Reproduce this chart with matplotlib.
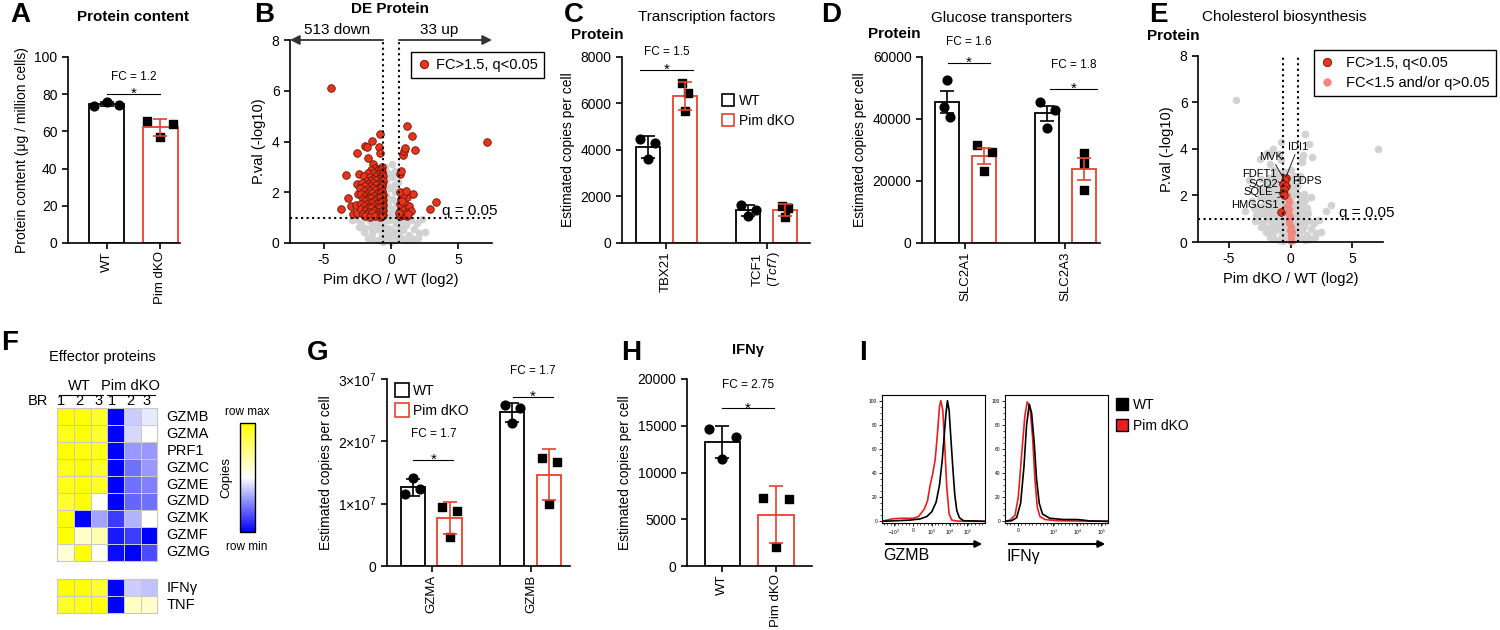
import numpy as np
import matplotlib.pyplot as plt
from matplotlib.colors import LinearSegmentedColormap
from matplotlib.lines import Line2D
from matplotlib.patches import FancyArrowPatch

plt.rcParams['font.family'] = ['Liberation Sans', 'DejaVu Sans']
plt.rcParams['axes.unicode_minus'] = False
plt.rcParams['mathtext.fontset'] = 'custom'
plt.rcParams['mathtext.rm'] = 'Liberation Sans'
plt.rcParams['mathtext.it'] = 'Liberation Sans:italic'
plt.rcParams['mathtext.default'] = 'regular'

W, H = 1500, 630
RED = '#e8412c'

# ---------------- data ----------------
# A: protein content (ug / million cells)
prot_wt = [73.5, 75.6, 74.4]
prot_ko = [65.4, 56.8, 64.2]

# B / E: volcano (log2 FC, -log10 p)
down_pts = [
    (-4.45, 6.1), (-0.81, 4.29), (-1.43, 4.02), (-1.93, 3.82), (-1.75, 3.8), (-0.9, 3.77),
    (-2.5, 3.56), (-0.8, 3.53), (-1.68, 3.36), (-1.3, 3.1), (-3.36, 2.68), (-3.7, 1.33),
    (-3.16, 1.76), (-3.0, 1.47), (-2.8, 1.14), (-2.5, 2.31), (-2.6, 1.5), (-2.4, 2.7),
    (-2.45, 1.95), (-2.55, 1.2),
    (-1.2, 2.97), (-0.9, 2.93), (-0.7, 2.98),
    (-1.45, 2.86), (-1.02, 2.84), (-0.76, 2.88), (-0.64, 2.8),
    (-1.72, 2.74), (-1.27, 2.77), (-0.95, 2.7), (-0.68, 2.72),
    (-2.02, 2.64), (-1.55, 2.62), (-1.1, 2.66), (-0.8, 2.6), (-0.62, 2.63),
    (-1.35, 2.54), (-0.9, 2.52), (-0.7, 2.5),
    (-1.8, 2.46), (-1.5, 2.43), (-1.15, 2.47), (-0.78, 2.42), (-0.63, 2.45),
    (-2.15, 2.35), (-1.65, 2.33), (-1.3, 2.37), (-1.0, 2.31), (-0.7, 2.34),
    (-1.9, 2.25), (-1.45, 2.23), (-1.15, 2.27), (-0.85, 2.22), (-0.64, 2.26),
    (-2.3, 2.15), (-1.7, 2.13), (-1.35, 2.17), (-1.0, 2.12), (-0.72, 2.16),
    (-2.0, 2.05), (-1.55, 2.03), (-1.2, 2.07), (-0.9, 2.02), (-0.66, 2.06),
    (-2.2, 1.95), (-1.8, 1.93), (-1.4, 1.97), (-1.05, 1.92), (-0.75, 1.96), (-0.62, 1.9),
    (-1.95, 1.85), (-1.6, 1.83), (-1.25, 1.87), (-0.95, 1.82), (-0.7, 1.86),
    (-2.1, 1.75), (-1.75, 1.73), (-1.45, 1.77), (-1.1, 1.72), (-0.8, 1.76), (-0.63, 1.7),
    (-1.9, 1.65), (-1.55, 1.63), (-1.25, 1.67), (-0.9, 1.62), (-0.68, 1.66),
    (-2.2, 1.55), (-1.8, 1.53), (-1.4, 1.57), (-1.05, 1.52), (-0.75, 1.56), (-0.62, 1.5),
    (-2.0, 1.45), (-1.65, 1.43), (-1.3, 1.47), (-0.95, 1.42), (-0.7, 1.46),
    (-2.25, 1.35), (-1.85, 1.33), (-1.5, 1.37), (-1.15, 1.32), (-0.82, 1.36), (-0.63, 1.3),
    (-1.95, 1.25), (-1.6, 1.23), (-1.25, 1.27), (-0.9, 1.22), (-0.68, 1.26),
    (-2.1, 1.15), (-1.75, 1.13), (-1.4, 1.17), (-1.05, 1.12), (-0.76, 1.16), (-0.62, 1.1),
    (-1.9, 1.05), (-1.55, 1.03), (-1.2, 1.07), (-0.85, 1.02), (-0.66, 1.06),
]
up_pts = [
    (0.65, 1.05), (0.9, 1.1), (1.2, 1.05), (0.7, 1.25), (1.05, 1.3), (0.8, 1.4), (1.3, 1.45),
    (0.65, 1.55), (1.0, 1.6), (0.75, 1.75), (1.2, 1.8), (0.9, 1.9), (0.65, 2.0), (1.1, 2.05),
    (0.62, 1.18), (0.85, 1.65), (0.7, 2.7), (0.75, 2.85), (0.9, 3.45), (0.97, 3.62),
    (1.03, 3.75), (1.2, 4.63), (1.53, 4.22), (1.78, 3.65), (1.65, 1.95), (2.89, 1.33),
    (3.31, 1.61), (7.1, 4.0), (1.45, 1.25), (1.25, 1.15),
]
ns_pts = [
    (0.0, 0.05), (0.1, 0.2), (-0.15, 0.3), (0.2, 0.45), (-0.3, 0.6), (0.35, 0.75), (-0.05, 0.9),
    (0.25, 1.05), (-0.4, 1.2), (0.15, 1.35), (-0.2, 1.5), (0.4, 1.6), (0.05, 1.75), (-0.35, 1.9),
    (0.3, 2.0), (-0.1, 2.15), (0.2, 2.3), (-0.4, 2.45), (0.1, 2.6), (-0.2, 2.75), (0.3, 2.85),
    (-0.45, 3.0), (0.05, 3.1), (-0.25, 2.2), (0.45, 1.3), (-0.5, 1.7), (0.5, 2.4), (0.0, 1.2),
    (-0.1, 0.55), (0.45, 0.4), (-0.45, 0.15), (0.3, 0.1), (-0.3, 0.9), (0.55, 0.95), (-0.55, 0.5),
    (-2.6, 0.95), (-2.2, 0.8), (-1.9, 0.6), (-1.6, 0.9), (-1.4, 0.4), (-1.2, 0.75), (-1.0, 0.55),
    (-0.8, 0.9), (-0.7, 0.3), (-1.7, 0.2), (-2.0, 0.45), (-1.3, 0.15), (-0.9, 0.1), (-2.4, 0.65),
    (-1.1, 0.95), (0.7, 0.85), (0.9, 0.5), (1.1, 0.7), (1.3, 0.3), (1.5, 0.9), (1.7, 0.55),
    (1.9, 0.8), (2.1, 0.4), (2.5, 0.45), (0.8, 0.2), (1.2, 0.1), (1.6, 0.15), (2.3, 0.95),
    (1.0, 0.95), (-0.65, 0.7), (0.65, 0.6), (-1.5, 0.65), (-0.6, 0.05), (0.6, 0.25),
    (-2.9, 0.9), (2.0, 0.2),
]

# E: cholesterol biosynthesis proteins
chol_names = ['IDI1', 'MVK', 'FDFT1', 'FDPS', 'SCD2', 'SQLE', 'HMGCS1', '']
chol_x = [-0.4, -0.48, -0.6, -0.38, -0.55, -0.58, -0.5, -0.73]
chol_y = [2.75, 2.65, 2.5, 2.4, 2.3, 2.12, 2.0, 1.27]
chol_ns_x = [-0.25, -0.2, -0.15, -0.25, -0.1, -0.2, -0.05, -0.15, -0.1, 0.0, -0.05, 0.05, 0.0, 0.05, 0.1]
chol_ns_y = [2.0, 1.85, 1.7, 1.55, 1.4, 1.25, 1.1, 0.95, 0.8, 0.65, 0.5, 0.35, 0.2, 0.05, 0.45]

# C: transcription factors (copies per cell)
tf_genes = ['TBX21', 'TCF1\n($\\it{Tcf7}$)']
tf_wt = [[4470, 3610, 4300], [1650, 1150, 1400]]
tf_ko = [[6880, 5690, 6450], [1600, 1120, 1500]]

# D: glucose transporters
glut_genes = ['SLC2A1', 'SLC2A3']
glut_wt = [[43800, 52500, 40600], [45400, 37100, 43000]]
glut_ko = [[31500, 23100, 29500], [29000, 17200, 25800]]

# F: effector proteins heatmap (0 = row min, 1 = row max)
eff_genes = ['GZMB', 'GZMA', 'PRF1', 'GZMC', 'GZME', 'GZMD', 'GZMK', 'GZMF', 'GZMG']
eff_vals = [
    [1.0, 1.0, 0.92, 0.0, 0.40, 0.46],
    [0.95, 1.0, 0.9, 0.0, 0.42, 0.5],
    [1.0, 0.97, 0.95, 0.0, 0.3, 0.3],
    [0.95, 1.0, 0.92, 0.0, 0.22, 0.3],
    [0.95, 1.0, 0.93, 0.0, 0.22, 0.25],
    [0.9, 1.0, 0.5, 0.0, 0.2, 0.22],
    [1.0, 0.0, 0.32, 0.12, 0.35, 0.5],
    [1.0, 0.6, 0.65, 0.05, 0.12, 0.0],
    [0.58, 1.0, 0.52, 0.02, 0.0, 0.15],
]
cyt_genes = ['IFNγ', 'TNF']
cyt_vals = [
    [1.0, 1.0, 0.9, 0.0, 0.4, 0.38],
    [0.92, 0.95, 1.0, 0.0, 0.62, 0.6],
]
br_labels = ['1', '2', '3', '1', '2', '3']

# G: granzymes
gzm_genes = ['GZMA', 'GZMB']
gzm_wt = [[11.5e6, 14.1e6, 12.3e6], [25.8e6, 22.9e6, 25.3e6]]
gzm_ko = [[9.5e6, 4.7e6, 8.8e6], [17.4e6, 9.9e6, 16.7e6]]

# H: IFNg
ifng_wt = [14700, 11400, 13750]
ifng_ko = [7300, 2000, 7200]

# I: flow histograms (channel, % of max)
gzmb_wt_ch = [0, 45, 85, 115, 135, 150, 163, 173, 181, 187, 192, 197, 202, 207, 213, 219, 225, 233, 245, 310]
gzmb_wt_pct = [0, 0.5, 1, 2, 4, 8, 16, 30, 50, 70, 88, 100, 92, 70, 45, 22, 9, 3, 0.5, 0]
gzmb_ko_ch = [0, 30, 55, 95, 110, 127, 137, 145, 153, 160, 167, 173, 177, 183, 188, 195, 202, 210, 225, 310]
gzmb_ko_pct = [0, 2, 2.5, 2.5, 4, 10, 17, 30, 40, 51, 73, 95, 100, 92, 67, 28, 6, 1, 0.2, 0]
ifng_wt_ch = [0, 20, 35, 47, 57, 65, 73, 80, 88, 95, 103, 113, 135, 175, 215, 235, 255, 310]
ifng_wt_pct = [0, 0.5, 3, 15, 45, 80, 97, 90, 65, 35, 15, 6, 2.5, 1.5, 1.5, 1, 0.3, 0]
ifng_ko_ch = [0, 15, 30, 40, 50, 60, 67, 75, 83, 90, 97, 105, 120, 155, 235, 310]
ifng_ko_pct = [0, 1, 5, 20, 55, 88, 99, 95, 70, 35, 12, 4, 1.5, 0.5, 0.2, 0]

# ---------------- helpers ----------------
fig = plt.figure(figsize=(15, 6.3), dpi=100)


def px_axes(x0, y0, x1, y1):
    return fig.add_axes([x0 / W, 1 - y1 / H, (x1 - x0) / W, (y1 - y0) / H])


def ftext(x, y, s, **kw):
    fig.text(x / W, 1 - y / H, s, **kw)


def style_axes(ax, size=10):
    for side in ['top', 'right']:
        ax.spines[side].set_visible(False)
    for side in ['left', 'bottom']:
        ax.spines[side].set_linewidth(1.2)
    ax.tick_params(width=1.2, length=4, labelsize=size)
    ax.tick_params(axis='x', labelsize=9.5, pad=2)


def draw_bar(ax, x, pts, color, marker, width, jitter, sem=False):
    pts = np.asarray(pts, float)
    m = pts.mean()
    e = pts.std(ddof=1)
    if sem:
        e = e / np.sqrt(len(pts))
    ax.bar(x, m, width=width, facecolor='white', edgecolor=color, linewidth=1.3, zorder=2)
    ax.scatter(x + np.array([-1, 0, 1]) * jitter, pts, marker=marker,
               s=40 if marker == 'o' else 36, c='black', zorder=3, clip_on=False)
    ax.errorbar(x, m, yerr=e, color=color, capsize=5, lw=1.2, capthick=1.2, zorder=4)


def bracket(ax, x0, x1, y, label, gap):
    ax.plot([x0, x1], [y, y], color='black', lw=0.8, clip_on=False)
    mid = (x0 + x1) / 2
    ax.annotate('*', xy=(mid, y), xytext=(0, -5), textcoords='offset points',
                ha='center', va='bottom', fontsize=11, annotation_clip=False)
    ax.annotate(label, xy=(mid, y), xytext=(0, gap), textcoords='offset points',
                ha='center', va='center', fontsize=8.5, annotation_clip=False)


def panel_letter(x, y, s):
    ftext(x, y, s, fontsize=20, fontweight='bold', va='center', ha='left')


# ---------------- A ----------------
axA = px_axes(68, 57, 180, 243)
style_axes(axA)
draw_bar(axA, 0, prot_wt, 'black', 'o', 0.65, 0.23)
draw_bar(axA, 1, prot_ko, RED, 's', 0.65, 0.24)
axA.set_xlim(-0.72, 1.37)
axA.set_ylim(0, 100)
axA.set_yticks([0, 20, 40, 60, 80, 100])
axA.set_xticks([0, 1])
axA.set_xticklabels(['WT', 'Pim dKO'], rotation=90)
axA.set_ylabel('Protein content (μg / million cells)', fontsize=10)
bracket(axA, 0, 1, 80.1, 'FC = 1.2', 12.5)
ftext(133, 17, 'Protein content', ha='center', va='center', fontsize=11, fontweight='bold')
panel_letter(10, 15, 'A')

# ---------------- B ----------------
axB = px_axes(290, 40, 492, 243)
style_axes(axB)
axB.tick_params(axis='x', labelsize=10, pad=3.5)
sig_pts = down_pts + up_pts
axB.scatter([p[0] for p in ns_pts], [p[1] for p in ns_pts], s=30, c='#d2d2d2', lw=0, zorder=1, clip_on=False)
axB.scatter([p[0] for p in sig_pts], [p[1] for p in sig_pts], s=30, c='#e8341c',
            edgecolors='#6e1608', linewidths=0.6, zorder=2, clip_on=False)
axB.set_xlim(-7.5, 7.5)
axB.set_ylim(0, 8)
axB.set_xticks([-5, 0, 5])
axB.set_yticks([0, 2, 4, 6, 8])
for xv in [-0.585, 0.585]:
    axB.plot([xv, xv], [0, 8], ls=':', color='black', lw=1.5, zorder=3)
axB.axhline(1.0, ls=':', color='black', lw=1.5, zorder=3)
axB.text(5.85, 1.26, 'q = 0.05', ha='center', va='center', fontsize=11)
axB.annotate('', xy=(-7.5, 8), xytext=(-0.585, 8),
             arrowprops=dict(arrowstyle='-|>', lw=1.3, color='#333333', mutation_scale=14,
                             shrinkA=0, shrinkB=0), annotation_clip=False)
axB.annotate('', xy=(7.5, 8), xytext=(0.585, 8),
             arrowprops=dict(arrowstyle='-|>', lw=1.3, color='#333333', mutation_scale=14,
                             shrinkA=0, shrinkB=0), annotation_clip=False)
axB.text(-4.0, 8.24, '513 down', ha='center', va='baseline', fontsize=11)
axB.text(3.6, 8.24, '33 up', ha='center', va='baseline', fontsize=11)
axB.set_ylabel('P.val (-log10)', fontsize=10.5)
axB.set_xlabel('Pim dKO / WT (log2)', fontsize=10.5)
legB = axB.legend(handles=[Line2D([], [], ls='', marker='o', markersize=6, mfc='#e8341c',
                                  mec='#6e1608', mew=0.6, label='FC>1.5, q<0.05')],
                  loc='upper left', bbox_to_anchor=(411 / W, 1 - 52 / H), bbox_transform=fig.transFigure,
                  fontsize=10.5, fancybox=False, edgecolor='black', framealpha=1,
                  handletextpad=0.3, borderpad=0.4, handlelength=1.0, borderaxespad=0)
legB.get_frame().set_linewidth(1.0)
ftext(390, 9, 'DE Protein', ha='center', va='center', fontsize=11, fontweight='bold')
panel_letter(254, 15, 'B')

# ---------------- C ----------------
axC = px_axes(622, 57, 810, 243)
style_axes(axC)
for i in range(len(tf_genes)):
    draw_bar(axC, i - 0.185, tf_wt[i], 'black', 'o', 0.24, 0.075)
    draw_bar(axC, i + 0.185, tf_ko[i], RED, 's', 0.24, 0.03)
axC.set_xlim(-0.44, 1.43)
axC.set_ylim(0, 8000)
axC.set_yticks([0, 2000, 4000, 6000, 8000])
axC.set_xticks([0, 1])
axC.set_xticklabels(tf_genes, rotation=90)
axC.set_ylabel('Estimated copies per cell', fontsize=10)
bracket(axC, -0.26, 0.27, 7450, 'FC = 1.5', 12.5)
axC.legend(handles=[Line2D([], [], ls='', marker='s', markersize=9, mfc='white', mec='black', mew=1.2, label='WT'),
                    Line2D([], [], ls='', marker='s', markersize=9, mfc='white', mec=RED, mew=1.2, label='Pim dKO')],
           loc='upper left', bbox_to_anchor=(721 / W, 1 - 94 / H), bbox_transform=fig.transFigure,
           frameon=False, fontsize=10, handletextpad=0.3, handlelength=1.0, borderpad=0,
           labelspacing=0.45, borderaxespad=0)
ftext(707, 17, 'Transcription factors', ha='center', va='center', fontsize=11)
ftext(571, 35, 'Protein', ha='left', va='center', fontsize=11, fontweight='bold')
panel_letter(564, 15, 'C')

# ---------------- D ----------------
axD = px_axes(922, 57, 1100, 243)
style_axes(axD)
for i in range(len(glut_genes)):
    draw_bar(axD, i - 0.18, glut_wt[i], 'black', 'o', 0.24, 0.03 if i == 0 else 0.075, sem=True)
    draw_bar(axD, i + 0.19, glut_ko[i], RED, 's', 0.24, 0.075 if i == 0 else 0.0, sem=True)
axD.set_xlim(-0.43, 1.35)
axD.set_ylim(0, 60000)
axD.set_yticks([0, 20000, 40000, 60000])
axD.set_xticks([0, 1])
axD.set_xticklabels(glut_genes, rotation=90)
axD.set_ylabel('Estimated copies per cell', fontsize=10)
bracket(axD, -0.17, 0.25, 58065, 'FC = 1.6', 15)
bracket(axD, 0.85, 1.32, 49680, 'FC = 1.8', 17)
ftext(1002, 18, 'Glucose transporters', ha='center', va='center', fontsize=11)
ftext(868, 34, 'Protein', ha='left', va='center', fontsize=11, fontweight='bold')
panel_letter(821, 15, 'D')

# ---------------- E ----------------
axE = px_axes(1198, 56, 1383, 242)
style_axes(axE)
axE.tick_params(axis='x', labelsize=10, pad=3.5)
all_pts = ns_pts + sig_pts
axE.scatter([p[0] for p in all_pts], [p[1] for p in all_pts], s=30, c='#d2d2d2', lw=0, zorder=1, clip_on=False)
axE.scatter(chol_ns_x, chol_ns_y, s=28, c='#f08880', lw=0, zorder=2, clip_on=False)
axE.scatter(chol_x, chol_y, s=30, c='#e8341c', edgecolors='#6e1608', linewidths=0.6, zorder=3)
for xv in [-0.585, 0.585]:
    axE.plot([xv, xv], [0, 8], ls=':', color='black', lw=1.5, zorder=4)
axE.axhline(1.0, ls=':', color='black', lw=1.5, zorder=4)
axE.text(6.2, 1.25, 'q = 0.05', ha='center', va='center', fontsize=11)
label_pos = {
    'IDI1': (-0.2, 4.1, 'left'), 'MVK': (-0.6, 3.67, 'right'), 'FDFT1': (-1.1, 2.92, 'right'),
    'FDPS': (0.1, 2.64, 'left'), 'SCD2': (-1.0, 2.49, 'right'), 'SQLE': (-1.45, 2.13, 'right'),
    'HMGCS1': (-1.0, 1.57, 'right'),
}
for name, xv, yv in zip(chol_names, chol_x, chol_y):
    if name == '':
        continue
    tx, ty, ha = label_pos[name]
    axE.annotate(name, xy=(xv, yv), xytext=(tx, ty), ha=ha, va='center', fontsize=8,
                 arrowprops=dict(arrowstyle='-', lw=0.6, color='black', shrinkA=0, shrinkB=2))
axE.set_xlim(-7.5, 7.5)
axE.set_ylim(0, 8)
axE.set_xticks([-5, 0, 5])
axE.set_yticks([0, 2, 4, 6, 8])
axE.set_ylabel('P.val (-log10)', fontsize=10.5)
axE.set_xlabel('Pim dKO / WT (log2)', fontsize=10.5)
legE = axE.legend(handles=[Line2D([], [], ls='', marker='o', markersize=6, mfc='#e8341c', mec='#6e1608',
                                  mew=0.6, label='FC>1.5, q<0.05'),
                           Line2D([], [], ls='', marker='o', markersize=6, mfc='#f08880', mec='none',
                                  label='FC<1.5 and/or q>0.05')],
                  loc='upper left', bbox_to_anchor=(1314 / W, 1 - 50 / H), bbox_transform=fig.transFigure,
                  fontsize=10.5, fancybox=False, edgecolor='black', framealpha=1,
                  handletextpad=0.8, borderpad=0.4, handlelength=1.0, borderaxespad=0, labelspacing=0.4)
legE.get_frame().set_linewidth(1.0)
ftext(1284, 17, 'Cholesterol biosynthesis', ha='center', va='center', fontsize=11)
ftext(1147, 36, 'Protein', ha='left', va='center', fontsize=11, fontweight='bold')
panel_letter(1149, 15, 'E')

# ---------------- F ----------------
cmap = LinearSegmentedColormap.from_list('bwy', ['#0000ff', '#ffffff', '#ffff00'])
axF1 = px_axes(57.3, 408.3, 157.3, 560.7)
mesh = axF1.pcolormesh(np.array(eff_vals), cmap=cmap, vmin=0, vmax=1, edgecolors='#c8c8c8', linewidth=0.5)
axF1.set_ylim(len(eff_genes), 0)
axF2 = px_axes(57.3, 579.3, 157.3, 613.3)
axF2.pcolormesh(np.array(cyt_vals), cmap=cmap, vmin=0, vmax=1, edgecolors='#c8c8c8', linewidth=0.5)
axF2.set_ylim(len(cyt_genes), 0)
for ax, genes in [(axF1, eff_genes), (axF2, cyt_genes)]:
    ax.set_xticks([])
    ax.set_yticks([])
    for sp in ax.spines.values():
        sp.set_color('#c8c8c8')
        sp.set_linewidth(0.8)
    for i, g in enumerate(genes):
        ax.text(6.56, i + 0.5, g, ha='left', va='center', fontsize=10.5)
for xc, lab in zip([0.2, 1.35, 2.45, 3.3, 4.4, 5.35], br_labels):
    axF1.text(xc, -0.42, lab, ha='center', va='center', fontsize=10.5, clip_on=False)
axF1.text(-0.55, -0.42, 'BR', ha='right', va='center', fontsize=10.5, clip_on=False)
axF1.plot([0.1, 2.75], [-0.8, -0.8], color='black', lw=0.8, clip_on=False)
axF1.plot([3.0, 5.85], [-0.8, -0.8], color='black', lw=0.8, clip_on=False)
axF1.text(1.35, -1.3, 'WT', ha='center', va='center', fontsize=10.5, clip_on=False)
axF1.text(4.4, -1.3, 'Pim dKO', ha='center', va='center', fontsize=10.5, clip_on=False)
caxF = px_axes(240, 422.7, 255, 531.7)
cb = fig.colorbar(mesh, cax=caxF)
cb.set_ticks([])
cb.outline.set_linewidth(1.0)
ftext(247, 412, 'row max', ha='center', va='center', fontsize=8.5)
ftext(247, 547, 'row min', ha='center', va='center', fontsize=8.5)
ftext(226, 477, 'Copies', ha='center', va='center', fontsize=9.5, rotation=90)
ftext(49, 357, 'Effector proteins', ha='left', va='center', fontsize=10.5)
panel_letter(1, 343, 'F')

# ---------------- G ----------------
axG = px_axes(387, 379, 570, 566)
style_axes(axG)
for i in range(len(gzm_genes)):
    draw_bar(axG, i - 0.19, gzm_wt[i], 'black', 'o', 0.245, 0.075)
    draw_bar(axG, i + 0.18, gzm_ko[i], RED, 's', 0.245, 0.075)
axG.set_xlim(-0.45, 1.39)
axG.set_ylim(0, 3e7)
axG.set_yticks([0, 1e7, 2e7, 3e7])
axG.set_yticklabels(['0', '$1{\\times}10^7$', '$2{\\times}10^7$', '$3{\\times}10^7$'])
axG.set_xticks([0, 1])
axG.set_xticklabels(gzm_genes, rotation=90)
axG.set_ylabel('Estimated copies per cell', fontsize=10)
bracket(axG, -0.185, 0.218, 16.98e6, 'FC = 1.7', 18.5)
bracket(axG, 0.82, 1.22, 27.16e6, 'FC = 1.7', 18.5)
axG.legend(handles=[Line2D([], [], ls='', marker='s', markersize=10, mfc='white', mec='black', mew=1.2, label='WT'),
                    Line2D([], [], ls='', marker='s', markersize=10, mfc='white', mec=RED, mew=1.2, label='Pim dKO')],
           loc='upper left', bbox_to_anchor=(395 / W, 1 - 384 / H), bbox_transform=fig.transFigure,
           frameon=False, fontsize=10, handletextpad=0.3, handlelength=1.0, borderpad=0,
           labelspacing=0.4, borderaxespad=0)
panel_letter(307, 353, 'G')

# ---------------- H ----------------
axH = px_axes(687, 379, 812, 566)
style_axes(axH)
draw_bar(axH, 0, ifng_wt, 'black', 'o', 0.66, 0.25)
draw_bar(axH, 1, ifng_ko, RED, 's', 0.66, 0.25)
axH.set_xlim(-0.66, 1.67)
axH.set_ylim(0, 20000)
axH.set_yticks([0, 5000, 10000, 15000, 20000])
axH.set_xticks([0, 1])
axH.set_xticklabels(['WT', 'Pim dKO'], rotation=90)
axH.set_ylabel('Estimated copies per cell', fontsize=10)
bracket(axH, 0, 0.96, 16860, 'FC = 2.75', 17)
ftext(748, 350, 'IFNγ', ha='center', va='center', fontsize=10.5, fontweight='bold')
panel_letter(621, 353, 'H')

# ---------------- I ----------------
hist_specs = [
    ((882, 395, 985, 523), gzmb_wt_ch, gzmb_wt_pct, gzmb_ko_ch, gzmb_ko_pct,
     [35, 93, 150, 205, 257], ['$-10^3$', '0', '$10^3$', '$10^4$', '$10^5$'], 'GZMB'),
    ((1005, 395, 1108, 523), ifng_wt_ch, ifng_wt_pct, ifng_ko_ch, ifng_ko_pct,
     [40, 145, 218, 290], ['0', '$10^3$', '$10^4$', '$10^5$'], 'IFNγ'),
]
for box, wx, wy, kx, ky, ticks, tlabels, name in hist_specs:
    ax = px_axes(*box)
    ax.plot(kx, ky, color='#e81e1e', lw=1.2)
    ax.plot(wx, wy, color='black', lw=1.2)
    ax.set_xlim(0, 310)
    ax.set_ylim(-1.4, 104.7)
    ax.set_yticks([0, 20, 40, 60, 80, 100])
    ax.set_yticks(np.arange(0, 101, 5), minor=True)
    ax.set_xticks(ticks)
    ax.set_xticklabels(tlabels)
    ax.set_xticks(np.arange(5, 310, 11), minor=True)
    ax.tick_params(labelsize=3.5, length=2.5, width=0.6, pad=1)
    ax.tick_params(which='minor', length=1.5, width=0.5)
    for sp in ax.spines.values():
        sp.set_linewidth(0.8)
    x0, x1 = box[0] + 1, box[2]
    fig.add_artist(FancyArrowPatch((x0 / W, 1 - 544 / H), (x1 / W, 1 - 544 / H), transform=fig.transFigure,
                                   arrowstyle='-|>', mutation_scale=10, lw=1.5, color='black'))
    ftext(x0, 556, name, ha='left', va='center', fontsize=11.5)
fig.legend(handles=[Line2D([], [], ls='', marker='s', markersize=8, mfc='black', mec='black', label='WT'),
                    Line2D([], [], ls='', marker='s', markersize=8, mfc='#e81e1e', mec='black', label='Pim dKO')],
           loc='upper left', bbox_to_anchor=(1115 / W, 1 - 398 / H), frameon=False, fontsize=10,
           handletextpad=0.3, handlelength=1.0, borderpad=0, labelspacing=0.5, borderaxespad=0)
panel_letter(859, 353, 'I')

fig.savefig('out.png', dpi=100)
